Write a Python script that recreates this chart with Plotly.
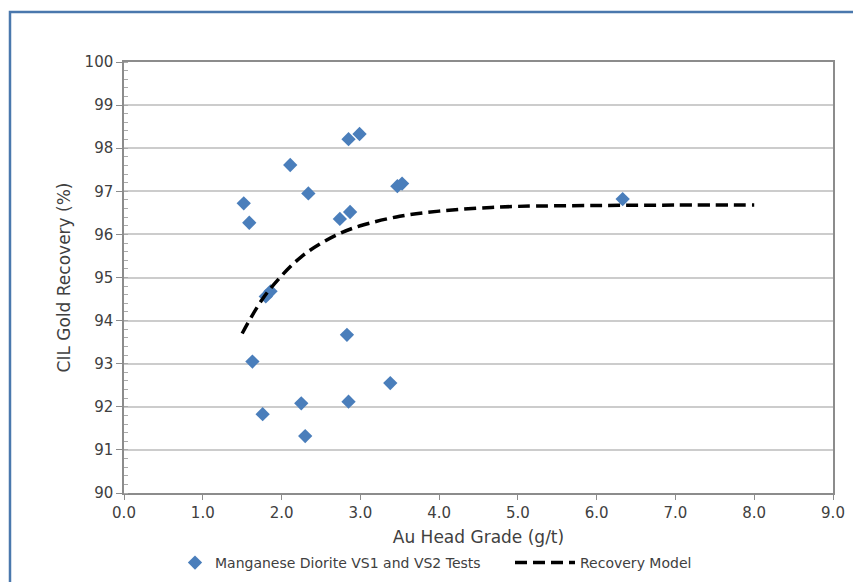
import plotly.graph_objects as go

# Test data
grade = [1.52, 1.59, 1.63, 1.76, 1.80, 1.86, 2.11, 2.25, 2.30, 2.34, 2.74,
         2.83, 2.85, 2.87, 2.85, 2.99, 3.38, 3.47, 3.53, 6.33]
recovery = [96.72, 96.27, 93.05, 91.83, 94.56, 94.68, 97.61, 92.08, 91.32, 96.95, 96.36,
            93.67, 98.21, 96.52, 92.12, 98.33, 92.55, 97.12, 97.18, 96.82]

# Recovery model curve
model_grade = [1.5, 1.75, 2.0, 2.25, 2.5, 2.75, 3.0, 3.5, 4.0, 4.5, 5.0, 6.0, 7.0, 8.0]
model_recovery = [93.70, 94.48, 95.04, 95.48, 95.79, 96.03, 96.20, 96.42, 96.54, 96.61,
                  96.65, 96.67, 96.68, 96.68]

x_ticks = [0, 1, 2, 3, 4, 5, 6, 7, 8, 9]
x_tick_labels = ["0.0", "1.0", "2.0", "3.0", "4.0", "5.0", "6.0", "7.0", "8.0", "9.0"]
y_ticks = list(range(90, 101))

FONT = "DejaVu Sans"
TXT = "#404040"

fig = go.Figure()
fig.add_trace(go.Scatter(
    x=grade, y=recovery, mode="markers",
    name="Manganese Diorite VS1 and VS2 Tests",
    marker=dict(symbol="diamond", size=11, color="#4a7ebb"),
    legend="legend",
))
fig.add_trace(go.Scatter(
    x=model_grade, y=model_recovery, mode="lines",
    name="Recovery Model", line_shape="spline",
    line=dict(color="black", width=3.5, dash="12px,6px"),
    legend="legend2",
))

# page body has an 8px margin, so the figure is 8px smaller and margins shifted
fig.update_layout(
    width=853, height=574,
    margin=dict(l=116, r=28, t=54, b=89, autoexpand=False),
    paper_bgcolor="white", plot_bgcolor="white",
    font=dict(family=FONT, color=TXT, size=14),
    showlegend=True,
    legend=dict(orientation="h", xref="container", yref="container",
                x=(175 - 8) / 853, xanchor="left", y=1 - 555 / 574, yanchor="middle",
                font=dict(size=14, color=TXT), itemwidth=30,
                bgcolor="rgba(0,0,0,0)"),
    legend2=dict(orientation="h", xref="container", yref="container",
                 x=(510 - 8) / 853, xanchor="left", y=1 - 555 / 574, yanchor="middle",
                 font=dict(size=14, color=TXT), itemwidth=60,
                 bgcolor="rgba(0,0,0,0)"),
    xaxis=dict(range=[0, 9], tickvals=x_ticks, ticktext=x_tick_labels,
               showgrid=False, zeroline=False, automargin=False,
               showline=True, linecolor="#8c8c8c", linewidth=1.5, mirror=True,
               ticks="outside", ticklen=5, tickcolor="#8c8c8c",
               tickfont=dict(size=15, color=TXT),
               title=dict(text="Au Head Grade (g/t)", font=dict(size=17, color=TXT), standoff=13)),
    yaxis=dict(range=[90, 100], tickvals=y_ticks,
               showgrid=True, gridcolor="#cccccc", gridwidth=1.5, zeroline=False, automargin=False,
               showline=True, linecolor="#8c8c8c", linewidth=1.5, mirror=True,
               ticks="outside", ticklen=6, tickcolor="#8c8c8c",
               minor=dict(dtick=0.2, ticks="inside", ticklen=4, tickcolor="#aaaaaa", showgrid=False),
               tickfont=dict(size=15, color=TXT),
               title=dict(text="CIL Gold Recovery (%)", font=dict(size=17, color=TXT), standoff=10)),
    shapes=[dict(type="rect", xref="paper", yref="paper",
                 x0=-0.1608, x1=1.2, y0=-0.5, y1=1.116,
                 line=dict(color="#4a78ad", width=2.5), fillcolor="rgba(0,0,0,0)")],
)

fig.write_html("out.html")
